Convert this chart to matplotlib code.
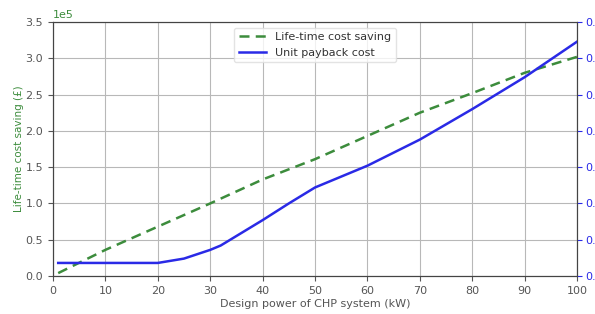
import numpy as np
import matplotlib
matplotlib.use("Agg")
import matplotlib.pyplot as plt

# design power of CHP system (kW)
power_saving = [1, 10, 20, 30, 40, 50, 60, 70, 80, 90, 100]
lifetime_saving = [4000, 36000, 68000, 100000, 133000, 161000, 193000, 225000, 252000, 280000, 302000]

power_payback = [1, 5, 10, 15, 20, 25, 30, 32, 40, 45, 50, 60, 70, 80, 90, 100]
unit_payback = [0.018, 0.018, 0.018, 0.018, 0.018, 0.024, 0.036, 0.042, 0.077,
                0.100, 0.122, 0.152, 0.188, 0.230, 0.274, 0.323]

text_grey = '#555555'
green = '#3c8c3c'
blue = '#2a2ae6'

fig = plt.figure(figsize=(5.95, 3.14), dpi=100)
ax = fig.add_axes([0.089, 0.121, 0.881, 0.809])
ax2 = ax.twinx()

l1, = ax.plot(power_saving, lifetime_saving, '--', color=green, lw=1.8,
              dashes=(4, 2.5), label='Life-time cost saving')
l2, = ax2.plot(power_payback, unit_payback, '-', color=blue, lw=1.8,
               label='Unit payback cost')

ax.set_xlim(0, 100)
ax.set_ylim(0, 350000)
ax2.set_ylim(0, 0.35)
ax.set_xticks(np.arange(0, 101, 10))
ax.set_yticks(np.arange(0, 350001, 50000))
ax2.set_yticks(np.arange(0, 0.351, 0.05))
ax.ticklabel_format(axis='y', style='sci', scilimits=(0, 0))
ax2.yaxis.set_major_formatter(matplotlib.ticker.FormatStrFormatter('%.2f'))

ax.grid(True, color='#b8b8b8', lw=0.8)
ax.tick_params(axis='x', labelsize=8, colors=text_grey)
ax.tick_params(axis='y', labelsize=8, colors=text_grey)
ax2.tick_params(axis='y', labelsize=8, colors=blue, pad=2)
ax.yaxis.get_offset_text().set_color(green)
ax.yaxis.get_offset_text().set_fontsize(8)

for sp in ax.spines.values():
    sp.set_color('#444444')
for sp in ax2.spines.values():
    sp.set_color('#444444')

ax.set_xlabel('Design power of CHP system (kW)', fontsize=8, color=text_grey, labelpad=2)
ax.set_ylabel('Life-time cost saving (£)', fontsize=7.5, color=green, labelpad=1)

leg = ax.legend(handles=[l1, l2], loc='upper center', fontsize=8,
                frameon=True, handlelength=2.5, borderaxespad=0.5)
leg.get_frame().set_edgecolor('#dddddd')
for t in leg.get_texts():
    t.set_color('#333333')

fig.savefig('out.png', dpi=100)
